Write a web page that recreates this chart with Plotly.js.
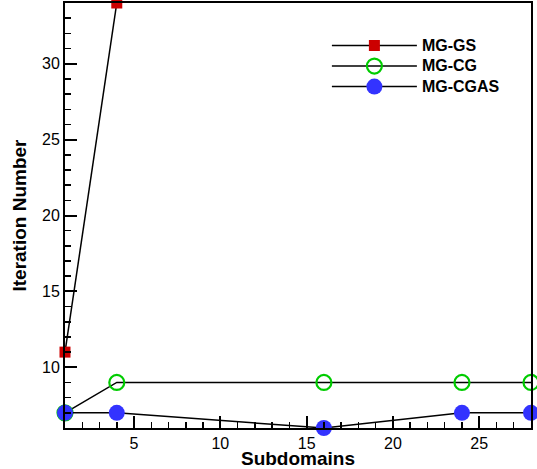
<!DOCTYPE html>
<html><head><meta charset="utf-8">
<script src="https://cdn.plot.ly/plotly-3.0.1.min.js"></script>
<style>html,body{margin:0;padding:0;background:#fff}#c{width:537px;height:469px}</style>
</head><body><div id="c"></div>
<script>
const seriesNames = ["MG-GS", "MG-CG", "MG-CGAS"];
const gsX = [1, 4];
const gsY = [11, 34];
const cgX = [1, 4, 16, 24, 28];
const cgY = [7, 9, 9, 9, 9];
const cgasX = [1, 4, 16, 24, 28];
const cgasY = [7, 7, 6, 7, 7];

const FONT = "Liberation Sans, Arial, Helvetica, sans-serif";
const legName = n => '<span style="font-size:16px">' + n + '</span>';

const traces = [
  {x: gsX, y: gsY, name: legName(seriesNames[0]), mode: "lines+markers", cliponaxis: false,
   line: {color: "#000", width: 1.5},
   marker: {symbol: "square", size: 11, color: "#cc0000"}},
  {x: cgX, y: cgY, name: legName(seriesNames[1]), mode: "lines+markers", cliponaxis: false,
   line: {color: "#000", width: 1.5},
   marker: {symbol: "circle-open", size: 15, color: "#00cc00", line: {width: 2.2, color: "#00cc00"}}},
  {x: cgasX, y: cgasY, name: legName(seriesNames[2]), mode: "lines+markers", cliponaxis: false,
   line: {color: "#000", width: 1.5},
   marker: {symbol: "circle", size: 16, color: "#3333ff"}}
];

const axisCommon = {
  showline: true, linecolor: "#000", linewidth: 2, mirror: true,
  ticks: "inside", ticklen: 12, tickwidth: 2, tickcolor: "#000",
  showgrid: false, zeroline: false, layer: "above traces",
  tickfont: {family: FONT, size: 16, color: "#000"},
  minor: {ticks: "inside", ticklen: 6, tickwidth: 1.5, tickcolor: "#000", dtick: 1, showgrid: false}
};

const layout = {
  width: 537, height: 469,
  margin: {l: 65, r: 6, t: 3, b: 41},
  paper_bgcolor: "#fff", plot_bgcolor: "#fff",
  showlegend: true,
  legend: {x: 0.562, y: 0.936, xanchor: "left", yanchor: "top", bgcolor: "rgba(0,0,0,0)",
    itemwidth: 85, tracegroupgap: 0,
    font: {family: FONT, size: 13.5, color: "#000", weight: "bold"}},
  xaxis: Object.assign({}, axisCommon, {
    range: [1, 28], tick0: 0, dtick: 5,
    title: {text: "<b>Subdomains</b>", standoff: 4,
      font: {family: FONT, size: 19, color: "#000"}}
  }),
  yaxis: Object.assign({}, axisCommon, {
    range: [6, 34], tick0: 0, dtick: 5,
    title: {text: "<b>Iteration Number</b>", standoff: 10,
      font: {family: FONT, size: 19, color: "#000"}}
  })
};

Plotly.newPlot("c", traces, layout, {displayModeBar: false, staticPlot: true});
</script></body></html>
